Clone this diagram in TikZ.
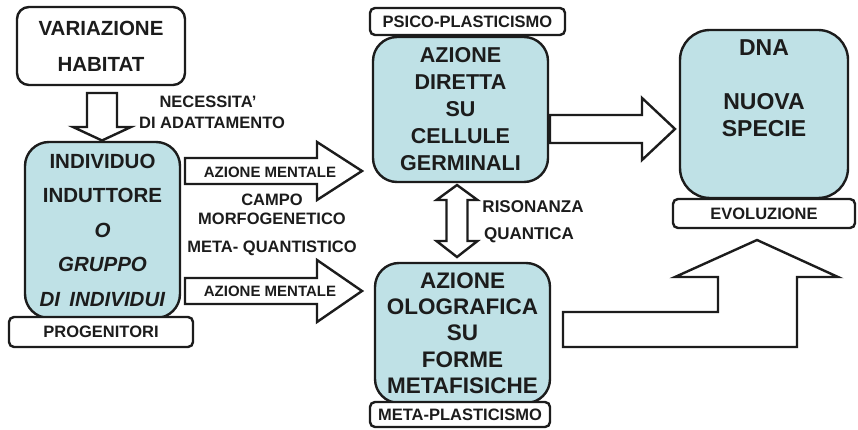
\documentclass[tikz,border=0pt]{standalone}
\usepackage{fontspec}
\setmainfont{Liberation Sans}
\usetikzlibrary{calc}
\definecolor{boxblue}{RGB}{191,225,230}
\definecolor{ink}{RGB}{28,28,28}
\tikzset{
  base/.style={draw=ink, line width=2.4pt, text=ink, align=center, inner sep=0pt, font=\bfseries},
  bluebox/.style={base, fill=boxblue, rounded corners=24pt},
  whitebox/.style={base, fill=white, rounded corners=12pt},
  tagbox/.style={base, fill=white, rounded corners=5pt, font=\bfseries\fontsize{16.5}{18}\selectfont},
  blockarrow/.style={draw=ink, line width=2.4pt, fill=white, line join=miter},
  lbl/.style={text=ink, inner sep=0pt, font=\bfseries\fontsize{16.5}{18}\selectfont},
  albl/.style={text=ink, inner sep=0pt, font=\bfseries\fontsize{15}{17}\selectfont}
}
\begin{document}
\begin{tikzpicture}[x=1pt, y=-1pt]
\useasboundingbox (0,0) rectangle (858,430);
\fill[white] (0,0) rectangle (858,430);

% boxes
\node[whitebox, minimum width=168pt, minimum height=78pt, font=\bfseries\fontsize{20.5}{36}\selectfont]
  (hab) at (101,46) {VARIAZIONE\\HABITAT};
\node[bluebox, minimum width=155pt, minimum height=176pt, font=\bfseries\fontsize{20.5}{34.5}\selectfont]
  (ind) at (102.5,230) {INDIVIDUO\\INDUTTORE\\\textit{O}\\\textit{GRUPPO}\\\textit{DI\hspace{0.45em}INDIVIDUI}};
\node[tagbox, minimum width=184pt, minimum height=30pt] (prog) at (101,332) {PROGENITORI};

\node[tagbox, minimum width=195pt, minimum height=27pt] (psico) at (467.5,21.5) {PSICO-PLASTICISMO};
\node[bluebox, minimum width=175pt, minimum height=145pt, font=\bfseries\fontsize{21.5}{27}\selectfont]
  (dir) at (460.5,109.5) {AZIONE\\DIRETTA\\SU\\CELLULE\\GERMINALI};
\node[bluebox, minimum width=175pt, minimum height=140pt, font=\bfseries\fontsize{22.5}{26.3}\selectfont]
  (olo) at (462.5,333) {AZIONE\\OLOGRAFICA\\SU\\FORME\\METAFISICHE};
\node[tagbox, minimum width=180pt, minimum height=25pt] (meta) at (460,414.5) {META-PLASTICISMO};

\node[bluebox, rounded corners=30pt, minimum width=168pt, minimum height=168pt] (dna) at (764,114) {};
\node[text=ink, align=center, inner sep=0pt, font=\bfseries\fontsize{23}{27}\selectfont]
  (dnat) at (764,88) {DNA\\[27pt]NUOVA\\SPECIE};
\node[tagbox, minimum width=182pt, minimum height=29pt] (evo) at (764,213.5) {EVOLUZIONE};

% block arrows
\draw[blockarrow] (87,93) -- (117,93) -- (117,127) -- (131,127) -- (102,140.5)
  -- (73,127) -- (87,127) -- cycle;

\draw[blockarrow] (185,158) -- (317,158) -- (317,142) -- (362,171) -- (317,200) -- (317,184) -- (185,184) -- cycle;
\draw[blockarrow] (185,278) -- (317,278) -- (317,260) -- (362,291) -- (317,322) -- (317,304) -- (185,304) -- cycle;

\draw[blockarrow] (550,115) -- (642,115) -- (642,98) -- (675,129) -- (642,160) -- (642,143) -- (550,143) -- cycle;

\draw[blockarrow] (457,185) -- (477.5,200) -- (467.5,200) -- (467.5,241) -- (477.5,241) -- (457,257)
  -- (436.5,241) -- (446.5,241) -- (446.5,200) -- (436.5,200) -- cycle;

\draw[blockarrow] (563,312) -- (718,312) -- (718,277) -- (675,277) -- (757,240) -- (838,277)
  -- (797,277) -- (797,347) -- (563,347) -- cycle;

% labels
\node[lbl] (nec1) at (208,102) {NECESSITA'};
\node[lbl] (nec2) at (212,123) {DI ADATTAMENTO};
\node[albl] (am1) at (270,172) {AZIONE MENTALE};
\node[albl] (am2) at (270,291) {AZIONE MENTALE};
\node[lbl] (cm1) at (272,200) {CAMPO};
\node[lbl] (cm2) at (272,219) {MORFOGENETICO};
\node[lbl] (cm3) at (272,248) {META- QUANTISTICO};
\node[lbl, font=\bfseries\fontsize{17}{19}\selectfont] (ris1) at (533,207) {RISONANZA};
\node[lbl, font=\bfseries\fontsize{17}{19}\selectfont] (ris2) at (529,235) {QUANTICA};
\end{tikzpicture}
\end{document}
